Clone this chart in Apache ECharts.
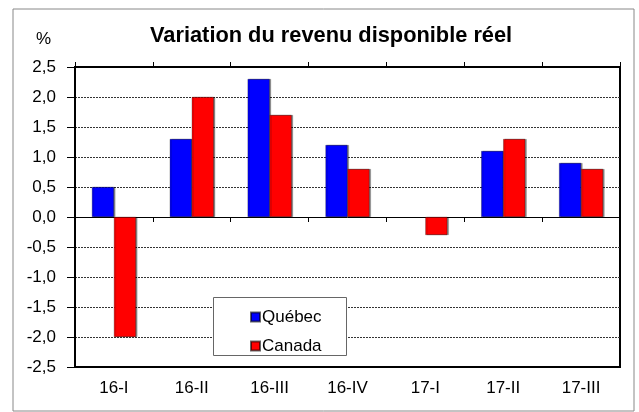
<!DOCTYPE html>
<html>
<head>
<meta charset="utf-8">
<script src="https://cdn.jsdelivr.net/npm/echarts@6/dist/echarts.min.js"></script>
<style>
html,body{margin:0;padding:0;background:#fff;}
#main{width:639px;height:412px;}
</style>
</head>
<body>
<div id="main"></div>
<script>
var categories = ['16-I', '16-II', '16-III', '16-IV', '17-I', '17-II', '17-III'];
var quebec = [0.5, 1.3, 2.3, 1.2, null, 1.1, 0.9];
var canada = [-2.0, 2.0, 1.7, 0.8, -0.3, 1.3, 0.8];
var seriesNames = ['Québec', 'Canada'];
var titleText = 'Variation du revenu disponible réel';
var unitText = '%';

var FONT = 'Liberation Sans, Arial, sans-serif';
var chart = echarts.init(document.getElementById('main'), null, {renderer: 'canvas'});

var barStyle = function (c) {
  return {
    color: c,
    borderColor: 'rgba(0,0,0,0.6)',
    borderWidth: 0.5,
    shadowColor: 'rgba(0,0,0,0.45)',
    shadowOffsetX: 1.5,
    shadowOffsetY: 0,
    shadowBlur: 0
  };
};

chart.setOption({
  animation: false,
  backgroundColor: '#fff',
  textStyle: {fontFamily: FONT},
  title: {
    text: titleText,
    left: 150,
    top: 25,
    padding: 0,
    textStyle: {fontFamily: FONT, fontSize: 21.8, fontWeight: 'bold', color: '#000'}
  },
  grid: {
    left: 75, right: 19, top: 67, bottom: 45,
    show: true, borderColor: '#000', borderWidth: 2, backgroundColor: 'transparent'
  },
  legend: {
    data: seriesNames,
    orient: 'vertical',
    left: 245,
    top: 303,
    itemWidth: 9,
    itemHeight: 9,
    itemGap: 11,
    icon: 'rect',
    z: 20,
    textStyle: {fontFamily: FONT, fontSize: 17, color: '#000', lineHeight: 18, padding: [0, 0, 0, -3]}
  },
  graphic: [
    {type: 'rect', z: -10, shape: {x: 13, y: 9, width: 621, height: 402}, style: {fill: 'none', stroke: '#888', lineWidth: 1}},
    {type: 'rect', z: 15, shape: {x: 213.5, y: 297.5, width: 133, height: 58}, style: {fill: '#fff', stroke: '#666', lineWidth: 1}},
    {type: 'text', z: 15, x: 36, y: 31, style: {text: unitText, font: '17px ' + FONT, fill: '#000'}}
  ],
  xAxis: [
    {
      type: 'category', data: categories, position: 'bottom',
      axisLine: {onZero: false, lineStyle: {color: '#000', width: 2}},
      axisTick: {show: false},
      axisLabel: {fontFamily: FONT, fontSize: 17, color: '#000', margin: 13},
      splitLine: {show: false}
    },
    {
      type: 'category', data: categories, position: 'bottom',
      axisLine: {onZero: true, lineStyle: {color: '#000', width: 1}},
      axisTick: {show: true, inside: false, length: 5, lineStyle: {color: '#000', width: 1}},
      axisLabel: {show: false},
      splitLine: {show: false}
    },
    {
      type: 'category', data: categories, position: 'top',
      axisLine: {onZero: true, lineStyle: {color: '#000', width: 1}},
      axisTick: {show: true, inside: false, length: 5, lineStyle: {color: '#000', width: 1}},
      axisLabel: {show: false},
      splitLine: {show: false}
    }
  ],
  yAxis: {
    type: 'value', min: -2.5, max: 2.5, interval: 0.5,
    axisLine: {show: true, lineStyle: {color: '#000', width: 2}},
    axisTick: {show: true, length: 8, lineStyle: {color: '#000', width: 1}},
    axisLabel: {
      fontFamily: FONT, fontSize: 17, color: '#000', margin: 19,
      formatter: function (v) { return v.toFixed(1).replace('.', ','); }
    },
    splitLine: {show: true, lineStyle: {color: '#333', width: 1, type: [2, 1]}}
  },
  series: [
    {name: seriesNames[0], type: 'bar', data: quebec, barWidth: 22, barGap: '0%', itemStyle: barStyle('#0000ff'), z: 3},
    {name: seriesNames[1], type: 'bar', data: canada, barWidth: 22, barGap: '0%', itemStyle: barStyle('#ff0000'), z: 3}
  ]
});
</script>
</body>
</html>
